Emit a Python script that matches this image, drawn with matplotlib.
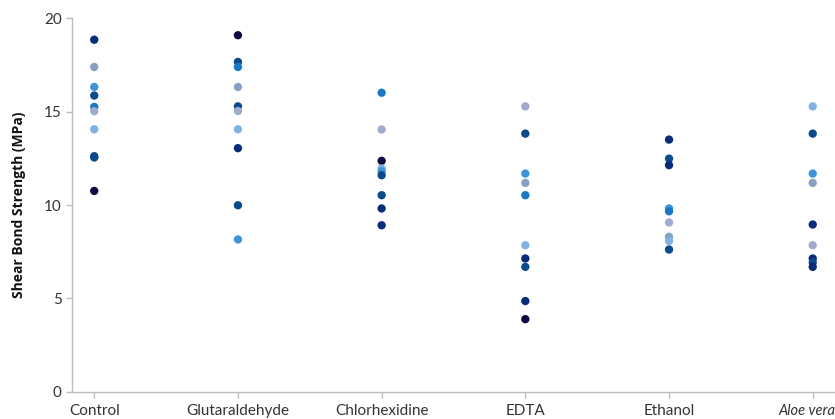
import matplotlib.pyplot as plt
import matplotlib.transforms as mtransforms

groups = ['Control', 'Glutaraldehyde', 'Chlorhexidine', 'EDTA', 'Ethanol', 'Aloe vera']

# palette of blues used for the individual specimens
palette = {
    'vdark': '#0f0b40',
    'navy': '#0a2b7a',
    'dark': '#0b4b8b',
    'bright': '#1878c6',
    'medium': '#3d94d8',
    'light': '#80b3e3',
    'grayblue': '#86a1c4',
    'lavender': '#9fabcf',
}

control = [18.86, 17.40, 16.33, 15.87, 15.26, 15.03, 14.06, 12.62, 12.55, 10.76]
control_c = ['navy', 'grayblue', 'medium', 'dark', 'bright', 'lavender', 'light', 'dark', 'dark', 'vdark']

glutaraldehyde = [19.10, 17.67, 17.40, 16.33, 15.29, 15.04, 14.06, 13.05, 9.99, 8.16]
glutaraldehyde_c = ['vdark', 'dark', 'bright', 'grayblue', 'dark', 'lavender', 'light', 'navy', 'dark', 'medium']

chlorhexidine = [16.02, 14.05, 12.37, 11.96, 11.81, 11.60, 10.53, 9.82, 8.92]
chlorhexidine_c = ['bright', 'lavender', 'vdark', 'light', 'medium', 'dark', 'dark', 'navy', 'navy']

edta = [15.29, 13.83, 11.69, 11.19, 10.53, 7.85, 7.14, 6.69, 4.86, 3.89]
edta_c = ['lavender', 'dark', 'medium', 'grayblue', 'bright', 'light', 'navy', 'dark', 'navy', 'vdark']

ethanol = [13.51, 12.49, 12.14, 9.82, 9.67, 9.07, 8.30, 8.08, 7.62]
ethanol_c = ['navy', 'dark', 'navy', 'medium', 'bright', 'lavender', 'grayblue', 'light', 'dark']

aloe_vera = [15.29, 13.83, 11.69, 11.19, 8.96, 7.85, 7.14, 6.93, 6.69]
aloe_vera_c = ['light', 'dark', 'medium', 'grayblue', 'navy', 'lavender', 'navy', 'dark', 'navy']

series = [control, glutaraldehyde, chlorhexidine, edta, ethanol, aloe_vera]
series_c = [control_c, glutaraldehyde_c, chlorhexidine_c, edta_c, ethanol_c, aloe_vera_c]

plt.rcParams['font.family'] = ['Lato', 'DejaVu Sans']

fig = plt.figure(figsize=(8.35, 4.19), dpi=100)
ax = fig.add_axes([0.0862, 0.065, 0.9138, 0.891])

for i, (vals, cols) in enumerate(zip(series, series_c)):
    ax.scatter([i] * len(vals), vals, s=36, c=[palette[c] for c in cols],
               linewidths=0, zorder=3)

ax.set_xlim(-0.155, 5.155)
ax.set_ylim(0, 20)
ax.set_yticks([0, 5, 10, 15, 20])
ax.set_xticks(range(len(groups)))
ax.set_xticklabels(groups)

for side in ['top', 'right']:
    ax.spines[side].set_visible(False)
for side in ['left', 'bottom']:
    ax.spines[side].set_color('#bdbdbd')
    ax.spines[side].set_linewidth(1)

ax.tick_params(axis='both', colors='#bdbdbd', labelcolor='#333333',
               labelsize=11, length=4, width=1)
ax.tick_params(axis='x', pad=5)
ax.set_ylabel('Shear Bond Strength (MPa)', fontsize=10, fontweight='bold',
              color='#111111', labelpad=13,
              family=['Open Sans', 'DejaVu Sans'])

# last label is italic and sits at the right edge; nudge it left to fit
last = ax.get_xticklabels()[-1]
last.set_style('italic')
last.set_fontsize(10.5)
last.set_transform(last.get_transform() +
                   mtransforms.ScaledTranslation(-6 / 100, 0, fig.dpi_scale_trans))

fig.savefig('out.png', dpi=100)
